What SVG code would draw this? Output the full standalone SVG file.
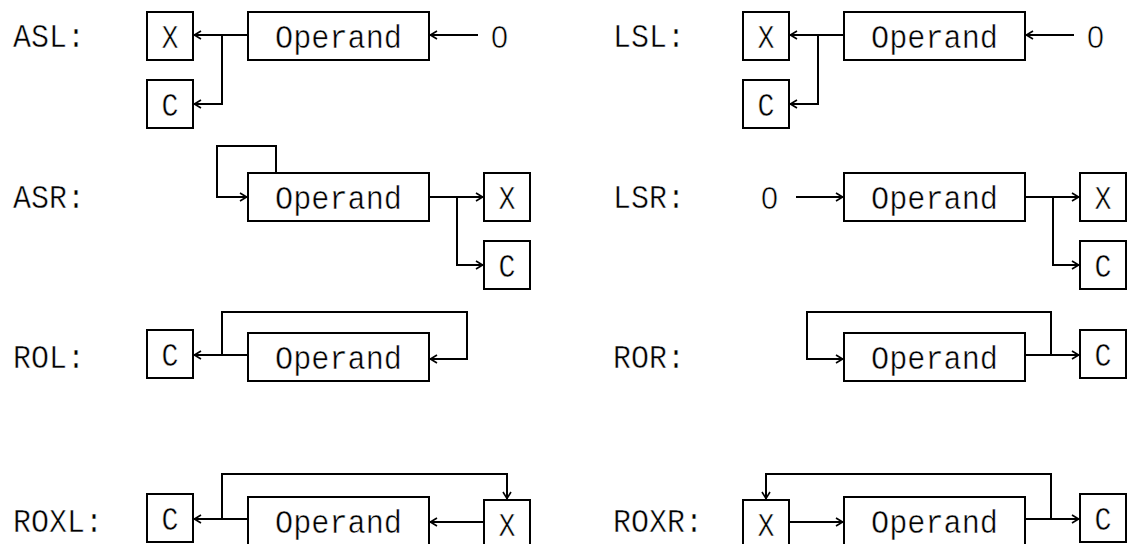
<svg xmlns="http://www.w3.org/2000/svg" width="1131" height="544" viewBox="0 0 1131 544">
<style>
.bg{fill:#fff}
.box{fill:#fff;stroke:#000;stroke-width:2}
.ln{fill:none;stroke:#000;stroke-width:2}
.t{font-family:"Liberation Mono","DejaVu Sans Mono",monospace;font-size:34px;fill:#000;stroke:#fff;stroke-width:0.5}
.z{font-family:"Liberation Sans","DejaVu Sans",sans-serif;font-size:32px;fill:#000;stroke:#fff;stroke-width:0.6}
.c{text-anchor:middle}
</style>
<defs>
<marker id="a" markerUnits="userSpaceOnUse" markerWidth="8" markerHeight="10" viewBox="0 0 8 10" refX="8" refY="5" orient="auto">
<path d="M1,1 L7.5,5 L1,9" fill="none" stroke="#000" stroke-width="1.6"/>
</marker>
</defs>
<rect class="bg" x="0" y="0" width="1131" height="544"/>
<g id="labels">
<text class="t" x="13" y="47" textLength="72" lengthAdjust="spacingAndGlyphs">ASL:</text>
<text class="t" x="13" y="208" textLength="72" lengthAdjust="spacingAndGlyphs">ASR:</text>
<text class="t" x="13" y="368" textLength="72" lengthAdjust="spacingAndGlyphs">ROL:</text>
<text class="t" x="13" y="532" textLength="90" lengthAdjust="spacingAndGlyphs">ROXL:</text>
<text class="t" x="613" y="47" textLength="72" lengthAdjust="spacingAndGlyphs">LSL:</text>
<text class="t" x="613" y="208" textLength="72" lengthAdjust="spacingAndGlyphs">LSR:</text>
<text class="t" x="613" y="368" textLength="72" lengthAdjust="spacingAndGlyphs">ROR:</text>
<text class="t" x="613" y="532" textLength="90" lengthAdjust="spacingAndGlyphs">ROXR:</text>
</g>
<g id="connectors">
<path class="ln" d="M248,35 H194" marker-end="url(#a)"/>
<path class="ln" d="M222,35 V104 H194" marker-end="url(#a)"/>
<path class="ln" d="M478,35 H430" marker-end="url(#a)"/>
<path class="ln" d="M844,35 H790" marker-end="url(#a)"/>
<path class="ln" d="M818,35 V104 H790" marker-end="url(#a)"/>
<path class="ln" d="M1074,35 H1026" marker-end="url(#a)"/>
<path class="ln" d="M276,173 V146 H217 V197 H247" marker-end="url(#a)"/>
<path class="ln" d="M429,197 H483" marker-end="url(#a)"/>
<path class="ln" d="M457,197 V265 H483" marker-end="url(#a)"/>
<path class="ln" d="M796,197 H843" marker-end="url(#a)"/>
<path class="ln" d="M1025,197 H1079" marker-end="url(#a)"/>
<path class="ln" d="M1053,197 V265 H1079" marker-end="url(#a)"/>
<path class="ln" d="M248,355 H194" marker-end="url(#a)"/>
<path class="ln" d="M222,355 V312 H467 V359 H430" marker-end="url(#a)"/>
<path class="ln" d="M1025,355 H1079" marker-end="url(#a)"/>
<path class="ln" d="M1051,355 V312 H807 V359 H843" marker-end="url(#a)"/>
<path class="ln" d="M248,519 H194" marker-end="url(#a)"/>
<path class="ln" d="M222,519 V474 H507 V499" marker-end="url(#a)"/>
<path class="ln" d="M483,522 H430" marker-end="url(#a)"/>
<path class="ln" d="M790,522 H843" marker-end="url(#a)"/>
<path class="ln" d="M1025,519 H1079" marker-end="url(#a)"/>
<path class="ln" d="M1051,519 V474 H766 V499" marker-end="url(#a)"/>
</g>
<g id="asl">
<rect class="box" x="147" y="12" width="46" height="48"/><text class="t c" x="170" y="48" textLength="17" lengthAdjust="spacingAndGlyphs">X</text>
<rect class="box" x="147" y="80" width="46" height="48"/><text class="t c" x="170" y="116" textLength="17" lengthAdjust="spacingAndGlyphs">C</text>
<rect class="box" x="248" y="12" width="181" height="48"/><text class="t" x="275" y="48" textLength="127" lengthAdjust="spacingAndGlyphs">Operand</text>
<text class="z" x="491" y="48" textLength="17" lengthAdjust="spacingAndGlyphs">0</text>
</g>
<g id="lsl">
<rect class="box" x="743" y="12" width="46" height="48"/><text class="t c" x="766" y="48" textLength="17" lengthAdjust="spacingAndGlyphs">X</text>
<rect class="box" x="743" y="80" width="46" height="48"/><text class="t c" x="766" y="116" textLength="17" lengthAdjust="spacingAndGlyphs">C</text>
<rect class="box" x="844" y="12" width="181" height="48"/><text class="t" x="871" y="48" textLength="127" lengthAdjust="spacingAndGlyphs">Operand</text>
<text class="z" x="1087" y="48" textLength="17" lengthAdjust="spacingAndGlyphs">0</text>
</g>
<g id="asr">
<rect class="box" x="248" y="173" width="181" height="48"/><text class="t" x="275" y="209" textLength="127" lengthAdjust="spacingAndGlyphs">Operand</text>
<rect class="box" x="484" y="173" width="46" height="48"/><text class="t c" x="507" y="209" textLength="17" lengthAdjust="spacingAndGlyphs">X</text>
<rect class="box" x="484" y="241" width="46" height="48"/><text class="t c" x="507" y="277" textLength="17" lengthAdjust="spacingAndGlyphs">C</text>
</g>
<g id="lsr">
<text class="z" x="761" y="209" textLength="17" lengthAdjust="spacingAndGlyphs">0</text>
<rect class="box" x="844" y="173" width="181" height="48"/><text class="t" x="871" y="209" textLength="127" lengthAdjust="spacingAndGlyphs">Operand</text>
<rect class="box" x="1080" y="173" width="46" height="48"/><text class="t c" x="1103" y="209" textLength="17" lengthAdjust="spacingAndGlyphs">X</text>
<rect class="box" x="1080" y="241" width="46" height="48"/><text class="t c" x="1103" y="277" textLength="17" lengthAdjust="spacingAndGlyphs">C</text>
</g>
<g id="rol">
<rect class="box" x="147" y="330" width="46" height="48"/><text class="t c" x="170" y="366" textLength="17" lengthAdjust="spacingAndGlyphs">C</text>
<rect class="box" x="248" y="333" width="181" height="48"/><text class="t" x="275" y="369" textLength="127" lengthAdjust="spacingAndGlyphs">Operand</text>
</g>
<g id="ror">
<rect class="box" x="844" y="333" width="181" height="48"/><text class="t" x="871" y="369" textLength="127" lengthAdjust="spacingAndGlyphs">Operand</text>
<rect class="box" x="1080" y="330" width="46" height="48"/><text class="t c" x="1103" y="366" textLength="17" lengthAdjust="spacingAndGlyphs">C</text>
</g>
<g id="roxl">
<rect class="box" x="147" y="494" width="46" height="48"/><text class="t c" x="170" y="530" textLength="17" lengthAdjust="spacingAndGlyphs">C</text>
<rect class="box" x="248" y="497" width="181" height="48"/><text class="t" x="275" y="533" textLength="127" lengthAdjust="spacingAndGlyphs">Operand</text>
<rect class="box" x="484" y="500" width="46" height="48"/><text class="t c" x="507" y="536" textLength="17" lengthAdjust="spacingAndGlyphs">X</text>
</g>
<g id="roxr">
<rect class="box" x="743" y="500" width="46" height="48"/><text class="t c" x="766" y="536" textLength="17" lengthAdjust="spacingAndGlyphs">X</text>
<rect class="box" x="844" y="497" width="181" height="48"/><text class="t" x="871" y="533" textLength="127" lengthAdjust="spacingAndGlyphs">Operand</text>
<rect class="box" x="1080" y="494" width="46" height="48"/><text class="t c" x="1103" y="530" textLength="17" lengthAdjust="spacingAndGlyphs">C</text>
</g>
</svg>
